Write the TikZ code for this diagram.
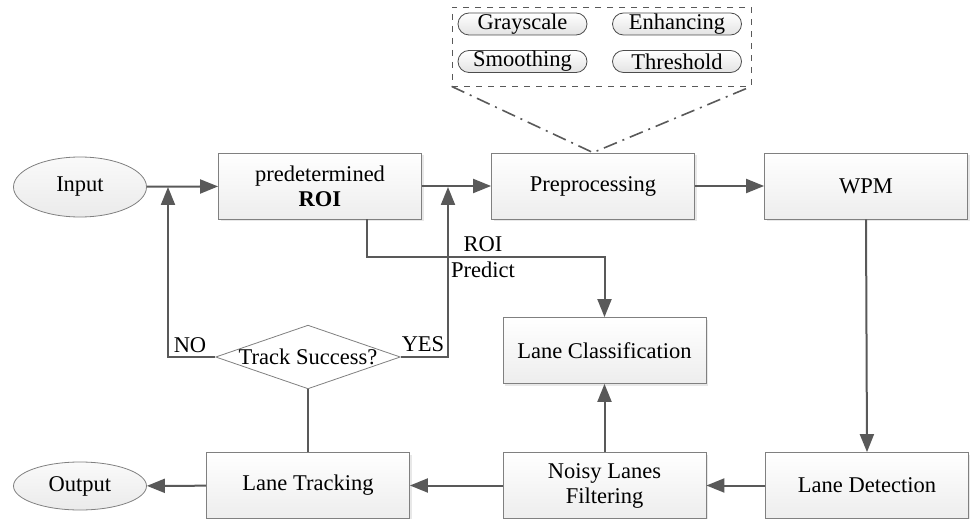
\documentclass[tikz,border=0pt]{standalone}
\usepackage{fontspec}
\setmainfont{Liberation Serif}
\newfontfamily\figfont{Liberation Serif}
\usetikzlibrary{arrows.meta,shapes.geometric,shapes.misc,shadows}
\definecolor{linegray}{RGB}{89,89,89}
\definecolor{edgegray}{RGB}{128,128,128}

\tikzset{
  procbox/.style={draw=edgegray,top color=white,bottom color=gray!14,minimum width=101.5pt,minimum height=33pt,align=center,
    drop shadow={shadow xshift=1.2pt,shadow yshift=-1.2pt,opacity=0.18}},
  termnode/.style={draw=edgegray,ellipse,top color=gray!4,bottom color=gray!16,minimum width=66.5pt,inner sep=0pt},
  pill/.style={draw=black!70,rounded rectangle,top color=white,bottom color=gray!22,minimum width=64.5pt,minimum height=11pt,inner sep=0pt},
  flow/.style={draw=linegray,line width=1pt,-{Triangle[length=9pt,width=7pt]}},
  plain/.style={draw=linegray,line width=1pt}
}

\begin{document}
\begin{tikzpicture}[x=0.5pt,y=-0.5pt,every node/.style={font=\figfont\fontsize{11.25}{12.5}\selectfont}]
\useasboundingbox (0,0) rectangle (970,519);
% main row
\node[termnode,minimum height=30pt] (in) at (80,187) {Input};
\node[procbox] (roi) at (320,186) {predetermined\\\textbf{ROI}};
\node[procbox] (pre) at (593,186) {Preprocessing};
\node[procbox] (wpm) at (866,186) {WPM};
% preprocessing steps
\node[draw=black!65,dashed,minimum width=149.5pt,minimum height=39.5pt] (steps) at (601.5,46.5) {};
\node[pill] (gray) at (522.5,24) {Grayscale};
\node[pill] (enh) at (677,24) {Enhancing};
\node[pill] (smo) at (522.5,61.5) {Smoothing};
\node[pill] (thr) at (677,61.5) {Threshold};
\draw[draw=linegray,line width=0.8pt,dash pattern=on 7pt off 3pt on 1pt off 3pt] (steps.south west) -- (pre.north) -- (steps.south east);
% lower part
\node[procbox] (lc) at (604.5,350.5) {Lane Classification};
\node[procbox] (ld) at (867,485.5) {Lane Detection};
\node[procbox] (nlf) at (604.5,485.5) {Noisy Lanes\\Filtering};
\node[procbox] (lt) at (308,485.5) {Lane Tracking};
\node[termnode,minimum height=24pt] (out) at (80,486) {Output};
\node[draw=edgegray,diamond,aspect=2.9,fill=white,inner sep=0pt] (ts) at (308,357) {Track Success?};
% labels
\node (roil) at (483,244) {ROI};
\node (predl) at (483,270) {Predict};
\node (nol) at (190,345) {NO};
\node (yesl) at (423,344) {YES};
\coordinate (noup) at (168,187);
\coordinate (yesup) at (448,187);
% connectors
\draw[flow] (in) -- (roi);
\draw[flow] (roi) -- (pre);
\draw[flow] (pre) -- (wpm);
\draw[flow] (wpm.south) -- (ld.north);
\draw[flow] (ld) -- (nlf);
\draw[flow] (nlf) -- (lc);
\draw[flow] (nlf) -- (lt);
\draw[flow] (lt) -- (out);
\draw[plain] (ts.south) -- (lt.north);
\draw[flow] (ts.west) -| (noup);
\draw[flow] (ts.east) -| (yesup);
\draw[flow] (roi.south) ++(47,0) -- ++(0,38) -| (lc.north);
\end{tikzpicture}
\end{document}
